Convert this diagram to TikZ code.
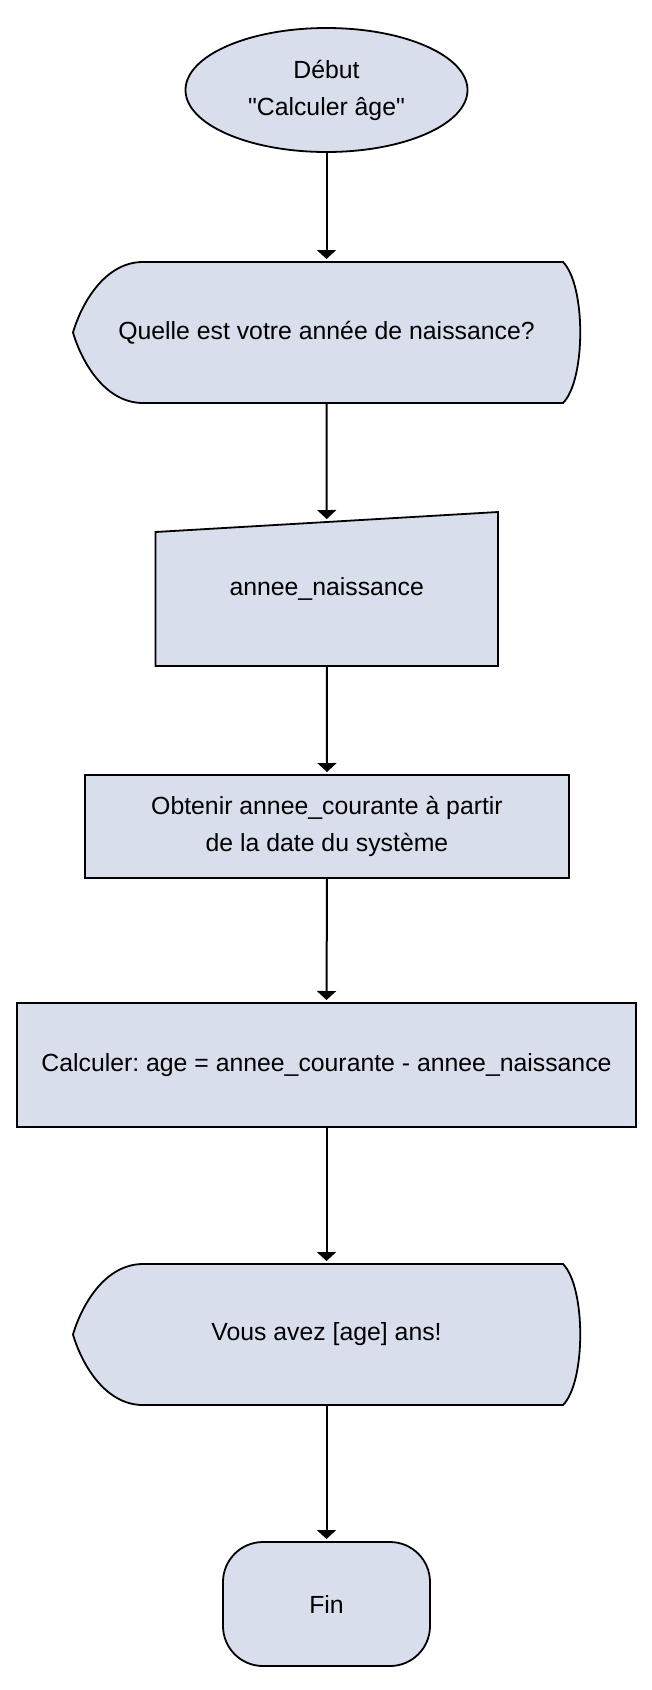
\documentclass[tikz,border=0pt]{standalone}
\usepackage{fontspec}
\setmainfont{Liberation Sans}[Ligatures=TeXOff]
\usetikzlibrary{shapes.geometric,arrows.meta,calc}
\definecolor{boxfill}{HTML}{D8DEEC}
\frenchspacing
\begin{document}
\begin{tikzpicture}[x=1pt,y=-1pt,
  every node/.style={font=\fontsize{24.8}{37}\selectfont, inner sep=0pt, outer sep=0pt, text=black},
  shapeline/.style={draw=black, line width=1.8pt, fill=boxfill},
  conn/.style={draw=black, line width=2pt, -{Triangle[length=9pt,width=19pt]}, shorten >=3pt},
  plainbox/.style={rectangle, draw=none, fill=none, align=center}
]
\useasboundingbox (0,0) rectangle (652,1690);

% Start
\node[ellipse, shapeline, minimum width=282pt, minimum height=124pt, align=center] (debut) at (326.5,90) {Début\\"Calculer âge"};

% Display 1
\draw[shapeline] (73,332.5) .. controls (81,305) and (104,262) .. (143,262) -- (563,262)
  .. controls (586,285) and (586,380) .. (563,403) -- (143,403)
  .. controls (104,403) and (81,360) .. cycle;
\node[plainbox, minimum width=507pt, minimum height=141pt] (quest) at (326.5,332.5) {Quelle est votre année de naissance?};

% Manual input
\coordinate (itl) at (155.5,532);
\coordinate (itr) at (498,512);
\draw[shapeline] (itl) -- (itr) -- (498,666) -- (155.5,666) -- cycle;
\coordinate (inptop) at ($(itl)!0.5!(itr)$);
\node[plainbox, minimum width=342pt, minimum height=154pt] (inp) at (326.75,589) {annee\_naissance};

% Process
\node[rectangle, shapeline, minimum width=484pt, minimum height=103pt, align=center] (obt) at (327,826.5) {Obtenir annee\_courante à partir\\de la date du système};

% Calc
\node[rectangle, shapeline, minimum width=619pt, minimum height=124pt] (calc) at (326.5,1065) {Calculer: age = annee\_courante - annee\_naissance};

% Display 2
\begin{scope}[shift={(0,1002)}]
\draw[shapeline] (73,332.5) .. controls (81,305) and (104,262) .. (143,262) -- (563,262)
  .. controls (586,285) and (586,380) .. (563,403) -- (143,403)
  .. controls (104,403) and (81,360) .. cycle;
\end{scope}
\node[plainbox, minimum width=507pt, minimum height=141pt] (vous) at (326.5,1334.5) {Vous avez [age] ans!};

% End
\node[rectangle, shapeline, rounded corners=40pt, minimum width=207pt, minimum height=124pt] (fin) at (326.5,1604) {Fin};

% Connectors
\draw[conn] (debut.south) -- (quest.north);
\draw[conn] (quest.south) -- (inptop);
\draw[conn] (inp.south) -- (obt.north);
\draw[conn] (obt.south) -- (calc.north);
\draw[conn] (calc.south) -- (vous.north);
\draw[conn] (vous.south) -- (fin.north);
\end{tikzpicture}
\end{document}
